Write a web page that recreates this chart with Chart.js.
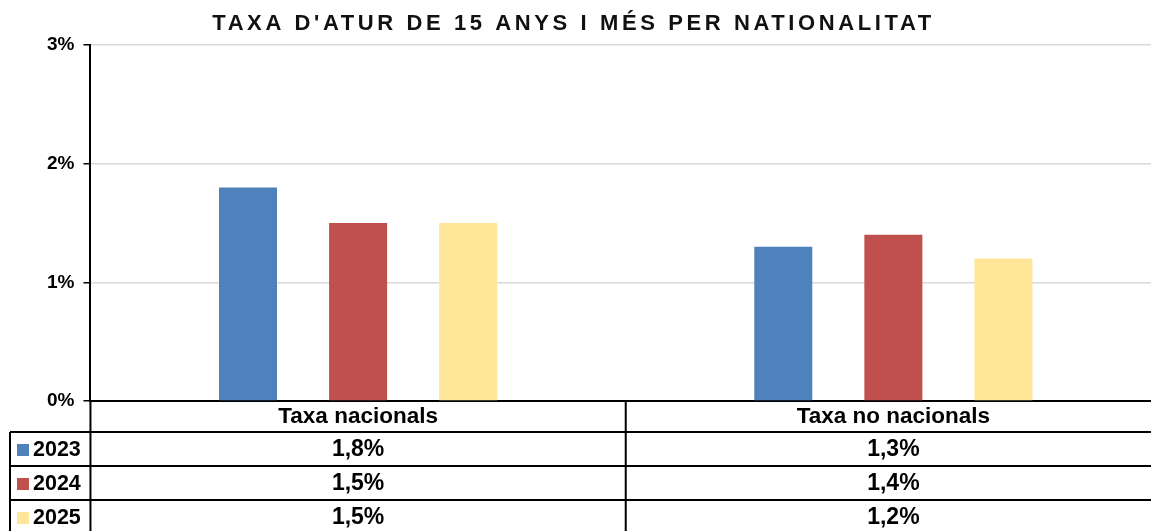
<!DOCTYPE html>
<html>
<head>
<meta charset="utf-8">
<script src="https://cdn.jsdelivr.net/npm/chart.js@4"></script>
<style>
    body { margin: 0; overflow: hidden; background: #fff; }
    #wrap { width: 1161px; height: 531px; position: relative; }
</style>
</head>
<body>
<div id="wrap"><canvas id="chart"></canvas></div>
<script>
const title = "TAXA D'ATUR DE 15 ANYS I MÉS PER NATIONALITAT";
const categories = ['Taxa nacionals', 'Taxa no nacionals'];
const years = ['2023', '2024', '2025'];
const values2023 = [1.8, 1.3];
const values2024 = [1.5, 1.4];
const values2025 = [1.5, 1.2];
const yTicks = [0, 1, 2, 3];
const colors = ['#4F81BD', '#C0504D', '#FFE699'];

const FONT = '"Liberation Sans", Arial, sans-serif';

const formatPct = v => v.toFixed(1).replace('.', ',') + '%';

const titlePlugin = {
    id: 'spacedTitle',
    afterDraw(chart) {
        const ctx = chart.ctx;
        ctx.save();
        ctx.font = 'bold 22px ' + FONT;
        ctx.letterSpacing = '3.6px';
        ctx.fillStyle = '#111';
        ctx.textAlign = 'center';
        ctx.textBaseline = 'middle';
        ctx.fillText(title, chart.width / 2 - 7, 24);
        ctx.restore();
    }
};

const tablePlugin = {
    id: 'dataTable',
    afterDraw(chart) {
        const ctx = chart.ctx;
        const area = chart.chartArea;
        const x = chart.scales.x;
        const headerBottom = area.bottom + 31;
        const rowH = 34;
        const tableLeft = 10;
        const bottom = headerBottom + rowH * years.length;
        const mid = (x.getPixelForTick(0) + x.getPixelForTick(1)) / 2;

        ctx.save();
        ctx.strokeStyle = '#000';
        ctx.lineWidth = 2;
        ctx.beginPath();
        [area.left, mid, area.right].forEach(px => {
            ctx.moveTo(px, area.bottom);
            ctx.lineTo(px, bottom);
        });
        ctx.moveTo(tableLeft, headerBottom);
        ctx.lineTo(tableLeft, bottom);
        for (let i = 0; i <= years.length; i++) {
            const y = headerBottom + rowH * i;
            ctx.moveTo(tableLeft, y);
            ctx.lineTo(area.right, y);
        }
        ctx.stroke();

        ctx.fillStyle = '#000';
        ctx.textAlign = 'center';
        ctx.textBaseline = 'middle';
        ctx.font = 'bold 22.5px ' + FONT;
        categories.forEach((c, i) => {
            ctx.fillText(c, x.getPixelForTick(i), area.bottom + 16);
        });

        chart.data.datasets.forEach((ds, r) => {
            const cy = headerBottom + rowH * r + rowH / 2 + 1;
            ctx.fillStyle = ds.backgroundColor;
            ctx.fillRect(17, cy - 6, 12, 12);
            ctx.fillStyle = '#000';
            ctx.textAlign = 'left';
            ctx.font = 'bold 21.5px ' + FONT;
            ctx.fillText(ds.label, 33, cy);
            ctx.textAlign = 'center';
            ctx.font = 'bold 23px ' + FONT;
            ds.data.forEach((v, i) => {
                ctx.fillText(formatPct(v), x.getPixelForTick(i), cy);
            });
        });
        ctx.restore();
    }
};

const seriesValues = [values2023, values2024, values2025];

new Chart(document.getElementById('chart'), {
    type: 'bar',
    data: {
        labels: categories,
        datasets: years.map((year, i) => ({
            label: year,
            data: seriesValues[i],
            backgroundColor: colors[i],
            categoryPercentage: 0.617,
            barPercentage: 0.527
        }))
    },
    options: {
        responsive: true,
        maintainAspectRatio: false,
        animation: false,
        layout: {
            padding: { top: 45, left: 38, right: 0, bottom: 122 }
        },
        plugins: {
            legend: { display: false },
            title: { display: false },
            tooltip: { enabled: false }
        },
        scales: {
            x: {
                ticks: { display: false },
                grid: { display: false },
                border: { color: '#000', width: 2 }
            },
            y: {
                min: 0,
                max: 3,
                afterBuildTicks: axis => {
                    axis.ticks = yTicks.map(v => ({ value: v }));
                },
                ticks: {
                    color: '#000',
                    padding: 9,
                    font: { family: FONT, size: 19, weight: 'bold' },
                    callback: v => v + '%'
                },
                grid: {
                    color: '#d9d9d9',
                    lineWidth: 1.5,
                    tickColor: '#000',
                    tickLength: 7
                },
                border: { color: '#000', width: 2 }
            }
        }
    },
    plugins: [titlePlugin, tablePlugin]
});
</script>
</body>
</html>
